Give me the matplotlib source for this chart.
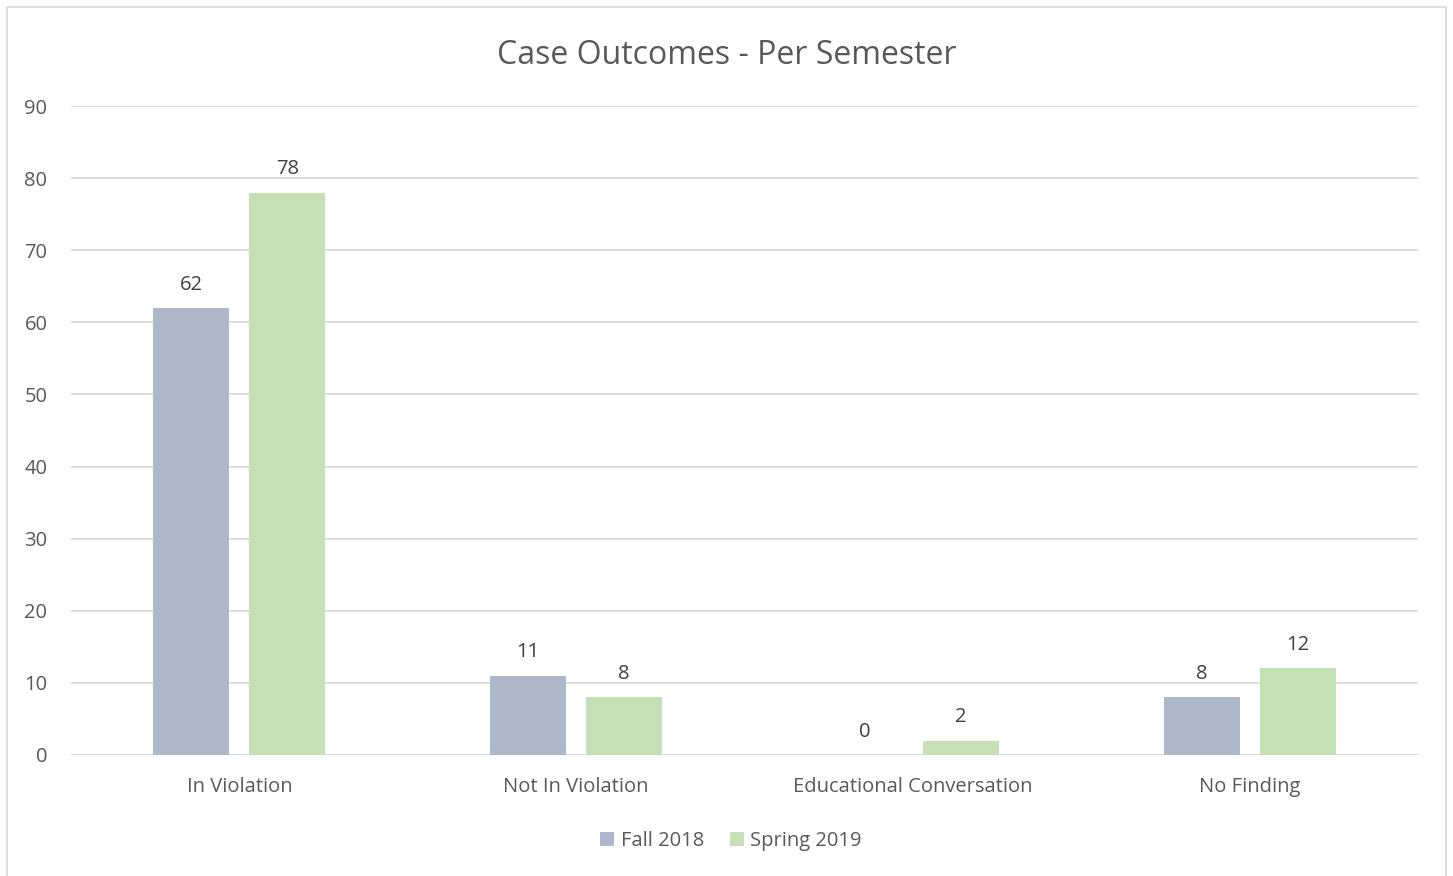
import matplotlib
matplotlib.use("Agg")
import matplotlib.pyplot as plt
import numpy as np
from matplotlib.patches import Rectangle

categories = ["In Violation", "Not In Violation", "Educational Conversation", "No Finding"]
series_names = ["Fall 2018", "Spring 2019"]
fall_2018 = [62, 11, 0, 8]
spring_2019 = [78, 8, 2, 12]
y_ticks = [0, 10, 20, 30, 40, 50, 60, 70, 80, 90]

plt.rcParams['font.family'] = ['Open Sans', 'DejaVu Sans']
txt = '#595959'
fs = 14.5
fig = plt.figure(figsize=(14.53, 8.76), dpi=100)
ax = fig.add_axes([71/1453, 1-755/876, (1418-71)/1453, (755-106)/876])

x = np.arange(len(categories))
w = 0.2257
off = 0.1425
b1 = ax.bar(x - off, fall_2018, w, color='#ADB9CA', zorder=3)
b2 = ax.bar(x + off, spring_2019, w, color='#C5E0B4', zorder=3)
for bars, vals in ((b1, fall_2018), (b2, spring_2019)):
    for r, v in zip(bars, vals):
        ax.annotate(str(v), (r.get_x() + r.get_width()/2, v), xytext=(0, 9.5),
                    textcoords='offset points', ha='center', va='bottom',
                    fontsize=fs, color='#404040')

ax.set_xlim(-0.5, 3.5)
ax.set_ylim(0, 90)
ax.set_yticks(y_ticks)
ax.set_xticks(x)
ax.set_xticklabels(categories)
ax.tick_params(axis='both', length=0, labelsize=fs, labelcolor=txt)
ax.tick_params(axis='y', pad=17)
ax.tick_params(axis='x', pad=16)
ax.grid(axis='y', color='#D9D9D9', linewidth=1.3, zorder=0)
for s in ax.spines.values():
    s.set_visible(False)
ax.axhline(0, color='#D9D9D9', linewidth=1.3, zorder=1)

fig.text(0.5, 1-55/876, "Case Outcomes - Per Semester", ha='center', va='center',
         fontsize=23, color=txt)

leg = fig.legend([b1, b2], series_names, loc='center', bbox_to_anchor=(731/1453, 1-841/876),
                 ncol=2, frameon=False, fontsize=fs, handlelength=0.7, handleheight=0.7,
                 handletextpad=0.3, columnspacing=1.3)
for t in leg.get_texts():
    t.set_color(txt)

fig.patches.append(Rectangle((7/1453, -0.01), (1446-7)/1453, 1.01 - 7/876, transform=fig.transFigure,
                             fill=False, edgecolor='#D9D9D9', linewidth=1.2))

fig.savefig("out.png", dpi=100)
